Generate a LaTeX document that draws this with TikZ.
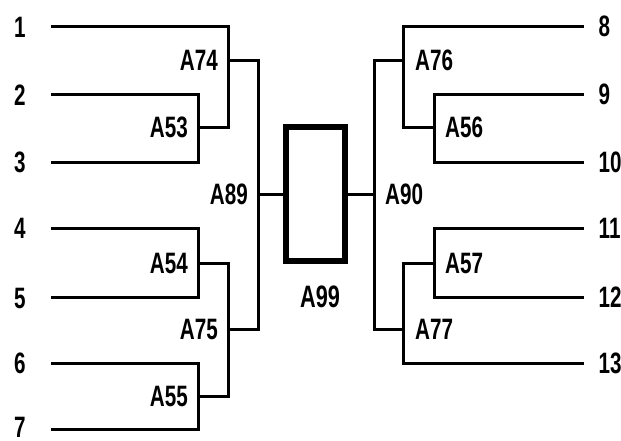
\documentclass[tikz,border=0pt]{standalone}
\usepackage{fontspec}
\newfontfamily\labfont[FakeStretch=0.7]{Liberation Sans}
\begin{document}
\begin{tikzpicture}[x=1pt,y=-1pt,
  wire/.style={line width=3pt,line cap=rect,line join=miter},
  lab/.style={inner sep=0pt,text height=21pt,text depth=0pt,font=\labfont\bfseries\fontsize{29.5}{30}\selectfont},
  bigbox/.style={draw,line width=6pt,minimum width=59pt,minimum height=134pt,inner sep=0pt}]
\useasboundingbox (0,0) rectangle (621,440);
% team line ends
\foreach \n/\y/\ty in {1/26/27,2/94/95,3/162/162,4/228/228,5/297/298,6/363/363,7/429/427}{
  \coordinate (L\n) at (52,\y);
  \node[lab,anchor=west] (n\n) at (14,\ty) {\n};
}
\foreach \n/\y in {8/26,9/94,10/162,11/228,12/297,13/363}{
  \coordinate (R\n) at (582,\y);
  \node[lab,anchor=west] (n\n) at (598.5,\y) {\n};
}
% junctions left
\coordinate (j53) at (198,127);
\coordinate (j74) at (228,60);
\coordinate (j54) at (198,263);
\coordinate (j55) at (198,396);
\coordinate (j75) at (228,329);
\coordinate (j89) at (258,194);
% junctions right
\coordinate (j56) at (434,127);
\coordinate (j76) at (403,60);
\coordinate (j57) at (434,263);
\coordinate (j77) at (403,329);
\coordinate (j90) at (374,194);
% box
\node[bigbox] (box) at (315.5,194) {};
% left bracket
\draw[wire] (L2) -| (j53) |- (L3);
\draw[wire] (L1) -| (j74) |- (j53);
\draw[wire] (L4) -| (j54) |- (L5);
\draw[wire] (L6) -| (j55) |- (L7);
\draw[wire] (j54) -| (j75) |- (j55);
\draw[wire] (j74) -| (j89) |- (j75);
\draw[wire] (j89) -- (box.west);
% right bracket
\draw[wire] (R9) -| (j56) |- (R10);
\draw[wire] (R8) -| (j76) |- (j56);
\draw[wire] (R11) -| (j57) |- (R12);
\draw[wire] (R13) -| (j77) |- (j57);
\draw[wire] (j76) -| (j90) |- (j77);
\draw[wire] (j90) -- (box.east);
% labels
\node[lab,anchor=east] (a53) at ([xshift=-10pt]j53) {A53};
\node[lab,anchor=east] (a74) at ([xshift=-10pt]j74) {A74};
\node[lab,anchor=east] (a54) at ([xshift=-10pt]j54) {A54};
\node[lab,anchor=east] (a55) at ([xshift=-10pt]j55) {A55};
\node[lab,anchor=east] (a75) at ([xshift=-10pt]j75) {A75};
\node[lab,anchor=east] (a89) at ([xshift=-10pt]j89) {A89};
\node[lab,anchor=west] (a56) at ([xshift=11pt]j56) {A56};
\node[lab,anchor=west] (a76) at ([xshift=12pt]j76) {A76};
\node[lab,anchor=west] (a57) at ([xshift=11pt]j57) {A57};
\node[lab,anchor=west] (a77) at ([xshift=12pt]j77) {A77};
\node[lab,anchor=west] (a90) at ([xshift=11pt]j90) {A90};
\node[lab,text height=22pt,font=\labfont\bfseries\fontsize{31}{32}\selectfont] (a99) at (320,296) {A99};
\end{tikzpicture}
\end{document}
